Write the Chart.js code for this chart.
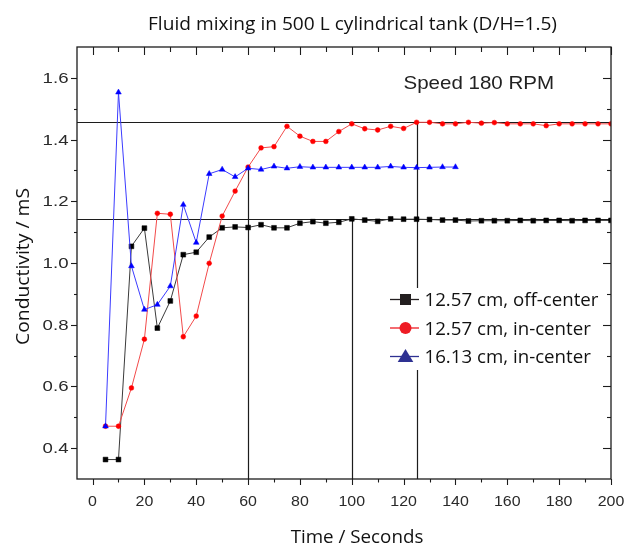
<!DOCTYPE html>
<html>
<head>
<meta charset="utf-8">
<script src="https://cdn.jsdelivr.net/npm/chart.js@4.4.1/dist/chart.umd.min.js"></script>
<style>
html,body{margin:0;padding:0;background:#fff;}
#c{display:block;}
</style>
</head>
<body>
<canvas id="c" width="628" height="545"></canvas>
<script>
// ---------- data ----------
const chartTitle = "Fluid mixing in 500 L cylindrical tank (D/H=1.5)";
const xAxisTitle = "Time / Seconds";
const yAxisTitle = "Conductivity / mS";
const annotationText = "Speed 180 RPM";
const seriesLabels = ["12.57 cm, off-center", "12.57 cm, in-center", "16.13 cm, in-center"];

const blackTimes = [5,10,15,20,25,30,35,40,45,50,55,60,65,70,75,80,85,90,95,100,105,110,115,120,125,130,135,140,145,150,155,160,165,170,175,180,185,190,195,200];
const blackValues = [0.363,0.363,1.054,1.113,0.789,0.877,1.027,1.035,1.084,1.114,1.117,1.115,1.124,1.114,1.114,1.129,1.134,1.129,1.132,1.143,1.139,1.135,1.143,1.142,1.142,1.141,1.139,1.139,1.136,1.137,1.137,1.137,1.138,1.137,1.138,1.138,1.137,1.138,1.138,1.138];

const redTimes = [5,10,15,20,25,30,35,40,45,50,55,60,65,70,75,80,85,90,95,100,105,110,115,120,125,130,135,140,145,150,155,160,165,170,175,180,185,190,195,200];
const redValues = [0.471,0.471,0.595,0.753,1.161,1.158,0.761,0.828,0.999,1.152,1.233,1.311,1.373,1.377,1.443,1.411,1.394,1.394,1.426,1.451,1.435,1.431,1.443,1.436,1.456,1.456,1.451,1.451,1.456,1.453,1.455,1.451,1.451,1.451,1.445,1.451,1.451,1.451,1.451,1.451];

const blueTimes = [5,10,15,20,25,30,35,40,45,50,55,60,65,70,75,80,85,90,95,100,105,110,115,120,125,130,135,140];
const blueValues = [0.471,1.553,0.990,0.849,0.865,0.925,1.189,1.066,1.289,1.303,1.279,1.307,1.303,1.313,1.307,1.312,1.310,1.310,1.310,1.310,1.310,1.310,1.313,1.310,1.309,1.310,1.311,1.311];

// reference guide lines
const refLevels = [1.456, 1.143];
const refTimes = [60, 100, 125];
const refTimeTops = [1.31, 1.143, 1.456];

// axes
const xMin = -6, xMax = 200, yMin = 0.3, yMax = 1.7;
const xMajorTicks = [0,20,40,60,80,100,120,140,160,180,200];
const xTickLabels = ["0","20","40","60","80","100","120","140","160","180","200"];
const xMinorTicks = [10,30,50,70,90,110,130,150,170,190];
const yMajorTicks = [0.4,0.6,0.8,1.0,1.2,1.4,1.6];
const yTickLabels = ["0.4","0.6","0.8","1.0","1.2","1.4","1.6"];
const yMinorTicks = [0.5,0.7,0.9,1.1,1.3,1.5];

// ---------- helpers ----------
function pts(ts, vs){ return ts.map((t,i)=>({x:t, y:vs[i]})); }
function stretchFor(ctx, s, font, target){
  ctx.save(); ctx.font = font; const w = ctx.measureText(s).width; ctx.restore();
  return target / w;
}
function drawText(ctx, s, x, y, font, sx, align, rot, color){
  ctx.save();
  ctx.translate(x, y);
  if (rot) ctx.rotate(rot);
  ctx.scale(sx, 1);
  ctx.font = font;
  ctx.fillStyle = color || '#111';
  ctx.textAlign = align;
  ctx.textBaseline = 'alphabetic';
  ctx.fillText(s, 0, 0);
  ctx.restore();
}
function seg(ctx, x1, y1, x2, y2){ ctx.beginPath(); ctx.moveTo(x1,y1); ctx.lineTo(x2,y2); ctx.stroke(); }

const HUM = '"Open Sans", "Noto Sans", sans-serif';
const ARI = '"Liberation Sans", Arial, sans-serif';

const deco = {
  id: 'deco',
  beforeDatasetsDraw(chart){
    const {ctx, chartArea:a, scales:{x, y}} = chart;
    ctx.save();
    ctx.strokeStyle = '#1c1c1c';
    ctx.lineWidth = 1.2;
    refLevels.forEach(v => { const py = Math.round(y.getPixelForValue(v)) + 0.5; seg(ctx, a.left, py, a.right, py); });
    refTimes.forEach((t,i) => { const px = Math.round(x.getPixelForValue(t)) + 0.5; seg(ctx, px, y.getPixelForValue(refTimeTops[i]), px, a.bottom); });
    ctx.restore();
  },
  afterDatasetsDraw(chart){
    const {ctx} = chart;
    ctx.save();
    // legend box (white, covers guide line)
    ctx.fillStyle = '#fff';
    ctx.fillRect(386, 288, 220, 82);
    const rowsY = [299.5, 328, 356.5];
    const lineX1 = 390, lineX2 = 419, mx = 405.5;
    // row 1: black square
    ctx.strokeStyle = '#231f20'; ctx.lineWidth = 1.3;
    seg(ctx, lineX1, rowsY[0], lineX2, rowsY[0]);
    ctx.fillStyle = '#231f20';
    ctx.fillRect(mx - 5.5, rowsY[0] - 5.5, 11, 11);
    // row 2: red circle
    ctx.strokeStyle = '#ee1c24';
    seg(ctx, lineX1, rowsY[1], lineX2, rowsY[1]);
    ctx.fillStyle = '#ee1c24';
    ctx.beginPath(); ctx.arc(mx, rowsY[1], 6, 0, Math.PI*2); ctx.fill();
    // row 3: navy triangle
    ctx.strokeStyle = '#2e3192';
    seg(ctx, lineX1, rowsY[2], lineX2, rowsY[2]);
    ctx.fillStyle = '#2e3192';
    ctx.beginPath(); ctx.moveTo(mx, rowsY[2] - 7.5); ctx.lineTo(mx + 7.8, rowsY[2] + 5.5); ctx.lineTo(mx - 7.8, rowsY[2] + 5.5); ctx.closePath(); ctx.fill();
    // legend texts
    const lf = '18.6px ' + HUM;
    const lsx = stretchFor(ctx, seriesLabels[0], lf, 174);
    seriesLabels.forEach((s,i) => drawText(ctx, s, 424.5, rowsY[i] + 6.7, lf, lsx, 'left', 0, '#111'));
    // annotation
    const af = '18.6px ' + ARI;
    drawText(ctx, annotationText, 403.5, 89.3, af, stretchFor(ctx, annotationText, af, 150.5), 'left', 0, '#222');
    ctx.restore();
  },
  afterDraw(chart){
    const {ctx, chartArea:a, scales:{x, y}} = chart;
    ctx.save();
    ctx.strokeStyle = '#1c1c1c';
    ctx.lineWidth = 1.3;
    ctx.strokeRect(a.left, a.top, a.right - a.left, a.bottom - a.top);
    ctx.lineWidth = 1.1;
    // x ticks
    xMajorTicks.forEach(t => {
      const px = Math.round(x.getPixelForValue(t)) + 0.5;
      seg(ctx, px, a.bottom, px, a.bottom + 6);
      seg(ctx, px, a.top, px, a.top + 8);
    });
    xMinorTicks.forEach(t => {
      const px = Math.round(x.getPixelForValue(t)) + 0.5;
      seg(ctx, px, a.bottom, px, a.bottom + 3.5);
      seg(ctx, px, a.top, px, a.top + 5);
    });
    // y ticks
    yMajorTicks.forEach(v => {
      const py = Math.round(y.getPixelForValue(v)) + 0.5;
      seg(ctx, a.left - 6, py, a.left, py);
      seg(ctx, a.right - 8, py, a.right, py);
    });
    yMinorTicks.forEach(v => {
      const py = Math.round(y.getPixelForValue(v)) + 0.5;
      seg(ctx, a.left - 3, py, a.left, py);
      seg(ctx, a.right - 4, py, a.right, py);
    });
    // tick labels
    const tf = '14px ' + ARI;
    xMajorTicks.forEach((t,i) => drawText(ctx, xTickLabels[i], x.getPixelForValue(t), 506, tf, 1.14, 'center', 0, '#2a2a2a'));
    yMajorTicks.forEach((v,i) => drawText(ctx, yTickLabels[i], 68.5, y.getPixelForValue(v) + 5, tf, 1.33, 'right', 0, '#2a2a2a'));
    // titles
    const hf = '18.6px ' + HUM;
    drawText(ctx, chartTitle, 352.5, 30, hf, stretchFor(ctx, chartTitle, hf, 409), 'center', 0, '#111');
    drawText(ctx, xAxisTitle, 357, 543.3, hf, stretchFor(ctx, xAxisTitle, hf, 132.7), 'center', 0, '#111');
    drawText(ctx, yAxisTitle, 28.5, 266.5, hf, stretchFor(ctx, yAxisTitle, hf, 157), 'center', -Math.PI/2, '#111');
    ctx.restore();
  }
};

new Chart(document.getElementById('c'), {
  type: 'line',
  data: {
    datasets: [
      { label: seriesLabels[2], data: pts(blueTimes, blueValues), borderColor: '#3b3bff', borderWidth: 1,
        pointStyle: 'triangle', pointRadius: 3.3, pointBackgroundColor: '#0000ff', pointBorderColor: '#0000ff', pointBorderWidth: 0.5, order: 0 },
      { label: seriesLabels[1], data: pts(redTimes, redValues), borderColor: '#f24a4a', borderWidth: 1,
        pointStyle: 'circle', pointRadius: 2.4, pointBackgroundColor: '#ff0000', pointBorderColor: '#ff0000', pointBorderWidth: 0.5, order: 1 },
      { label: seriesLabels[0], data: pts(blackTimes, blackValues), borderColor: '#3a3a3a', borderWidth: 1,
        pointStyle: 'rect', pointRadius: 3.4, pointBackgroundColor: '#000', pointBorderColor: '#000', pointBorderWidth: 0.5, order: 2 }
    ]
  },
  options: {
    responsive: false,
    animation: false,
    devicePixelRatio: 1,
    layout: { padding: { top: 47, right: 17, left: 0, bottom: 0 } },
    plugins: { legend: { display: false }, title: { display: false }, tooltip: { enabled: false } },
    elements: { line: { tension: 0 } },
    scales: {
      x: { type: 'linear', min: xMin, max: xMax, ticks: { display: false }, grid: { display: false, drawTicks: false }, border: { display: false },
           afterFit(s){ s.height = 66; } },
      y: { type: 'linear', min: yMin, max: yMax, ticks: { display: false }, grid: { display: false, drawTicks: false }, border: { display: false },
           afterFit(s){ s.width = 77; } }
    }
  },
  plugins: [deco]
});
</script>
</body>
</html>
